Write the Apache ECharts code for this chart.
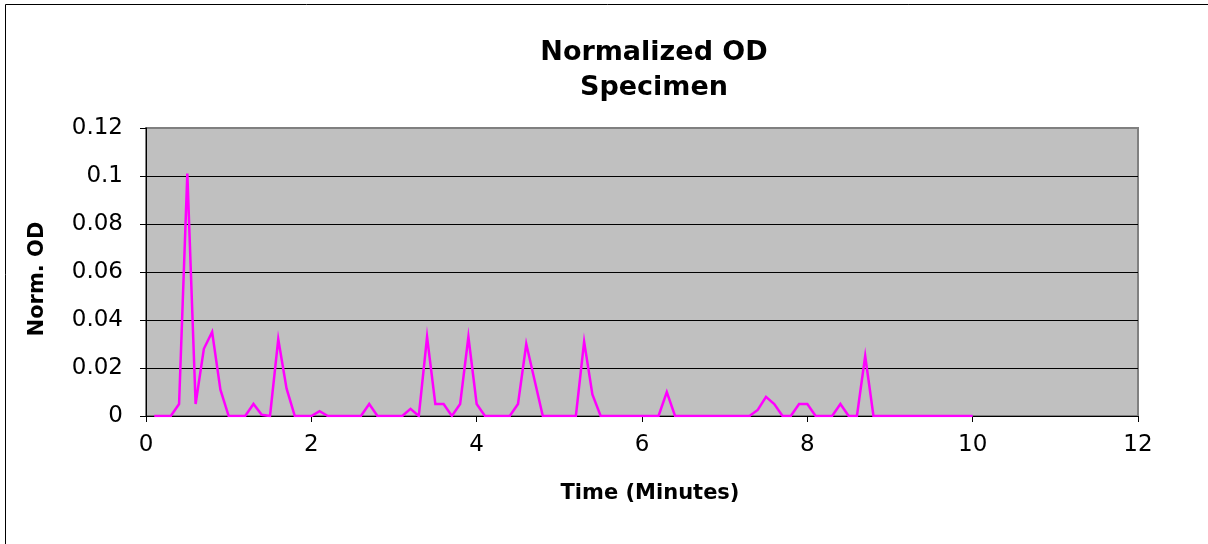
<!DOCTYPE html>
<html>
<head>
<meta charset="utf-8">
<style>
html,body{margin:0;padding:0;background:#fff;}
#c{width:1208px;height:544px;}
</style>
<script src="https://cdn.jsdelivr.net/npm/echarts@6/dist/echarts.min.js"></script>
</head>
<body>
<div id="c"></div>
<script>
var chartTitle = ['Normalized OD', 'Specimen'];
var xName = 'Time (Minutes)';
var yName = 'Norm. OD';

var timeMin = [
  0.1,0.2,0.3,0.4,0.5,0.6,0.7,0.8,0.9,1.0,
  1.1,1.2,1.3,1.4,1.5,1.6,1.7,1.8,1.9,2.0,
  2.1,2.2,2.3,2.4,2.5,2.6,2.7,2.8,2.9,3.0,
  3.1,3.2,3.3,3.4,3.5,3.6,3.7,3.8,3.9,4.0,
  4.1,4.2,4.3,4.4,4.5,4.6,4.7,4.8,4.9,5.0,
  5.1,5.2,5.3,5.4,5.5,5.6,5.7,5.8,5.9,6.0,
  6.1,6.2,6.3,6.4,6.5,6.6,6.7,6.8,6.9,7.0,
  7.1,7.2,7.3,7.4,7.5,7.6,7.7,7.8,7.9,8.0,
  8.1,8.2,8.3,8.4,8.5,8.6,8.7,8.8,8.9,9.0,
  9.1,9.2,9.3,9.4,9.5,9.6,9.7,9.8,9.9,10.0
];
var normOD = [
  0,0,0,0.005,0.101,0.005,0.028,0.035,0.011,0,
  0,0,0.005,0.0005,0,0.032,0.0115,0,0,0,
  0.002,0,0,0,0,0,0.005,0,0,0,
  0,0.003,0,0.033,0.005,0.005,0,0.005,0.033,0.005,
  0,0,0,0,0.005,0.030,0.015,0,0,0,
  0,0,0.031,0.009,0,0,0,0,0,0,
  0,0,0.010,0,0,0,0,0,0,0,
  0,0,0,0.0025,0.008,0.005,0,0,0.005,0.005,
  0,0,0,0.005,0,0,0.025,0,0,0,
  0,0,0,0,0,0,0,0,0,0
];

var points = timeMin.map(function (t, i) { return [t, normOD[i]]; });

var chart = echarts.init(document.getElementById('c'), null, {renderer: 'canvas'});
var labelFont = {fontFamily: 'DejaVu Sans', fontSize: 23, color: '#000'};
chart.setOption({
  animation: false,
  backgroundColor: '#fff',
  grid: {
    left: 146, right: 70, top: 128, bottom: 128,
    show: true, backgroundColor: '#C0C0C0', borderColor: '#808080', borderWidth: 2
  },
  xAxis: {
    type: 'value', min: 0, max: 12, interval: 2,
    axisLine: {show: true, onZero: false, lineStyle: {color: '#000', width: 1}},
    axisTick: {show: true, inside: false, length: 6, lineStyle: {color: '#000'}},
    axisLabel: Object.assign({margin: 18}, labelFont),
    splitLine: {show: false}
  },
  yAxis: {
    type: 'value', min: 0, max: 0.12, interval: 0.02,
    axisLine: {show: true, lineStyle: {color: '#000', width: 1}},
    axisTick: {show: true, inside: false, length: 6, lineStyle: {color: '#000'}},
    axisLabel: Object.assign({margin: 23}, labelFont),
    splitLine: {show: true, lineStyle: {color: ['#000','#000','#000','#000','#000','#000','#808080'], width: 1}}
  },
  series: [{
    type: 'line',
    data: points,
    showSymbol: false,
    symbol: 'none',
    lineStyle: {color: '#FF00FF', width: 2.5, join: 'miter'},
    z: 5
  }],
  graphic: [
    {type: 'rect', shape: {x: 5.5, y: 4.5, width: 1400, height: 700}, style: {fill: 'none', stroke: '#000', lineWidth: 1}, silent: true, z: -1},
    {type: 'text', x: 654, y: 53, style: {text: chartTitle[0], fontFamily: 'DejaVu Sans', fontWeight: 'bold', fontSize: 27, fill: '#000', textAlign: 'center', textVerticalAlign: 'middle'}},
    {type: 'text', x: 654, y: 88, style: {text: chartTitle[1], fontFamily: 'DejaVu Sans', fontWeight: 'bold', fontSize: 27, fill: '#000', textAlign: 'center', textVerticalAlign: 'middle'}},
    {type: 'text', x: 650, y: 494, style: {text: xName, fontFamily: 'DejaVu Sans', fontWeight: 'bold', fontSize: 21, fill: '#000', textAlign: 'center', textVerticalAlign: 'middle'}},
    {type: 'text', x: 38, y: 279, rotation: Math.PI / 2, style: {text: yName, fontFamily: 'DejaVu Sans', fontWeight: 'bold', fontSize: 21, fill: '#000', textAlign: 'center', textVerticalAlign: 'middle'}}
  ]
});
</script>
</body>
</html>
